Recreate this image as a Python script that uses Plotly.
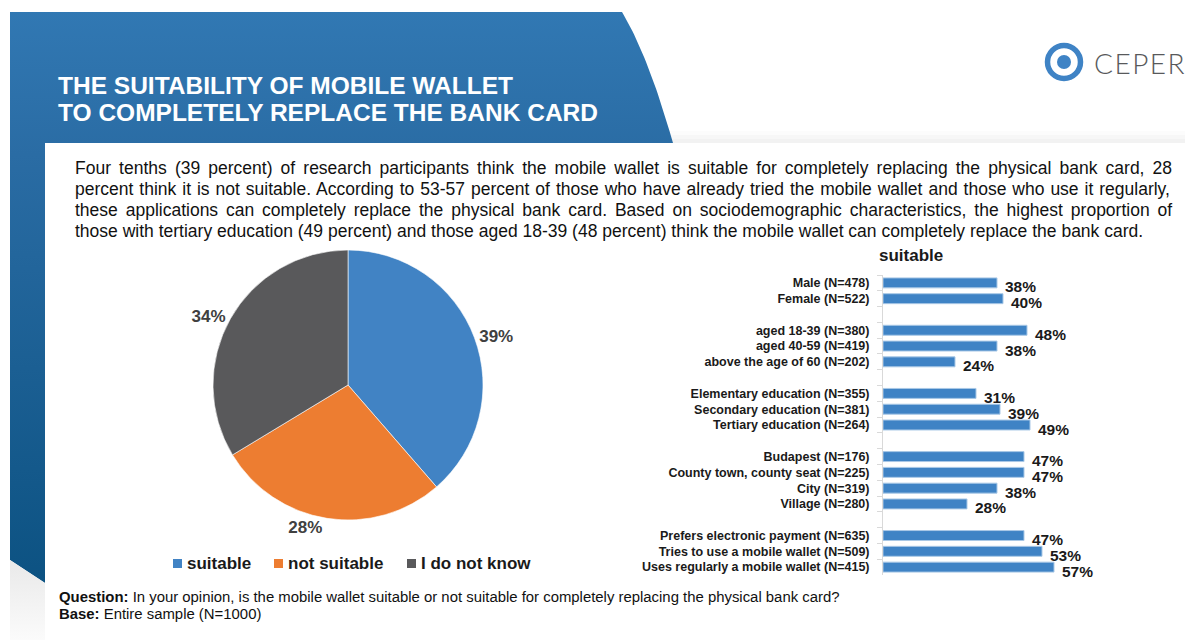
import plotly.graph_objects as go

W, H = 1185, 640
FONT = "Liberation Sans, Arial, sans-serif"

# ---------------- data ----------------
pie_labels = ["suitable", "not suitable", "I do not know"]
pie_values = [39, 28, 34]
pie_colors = ["#4183c4", "#ed7d31", "#59595b"]

bar_categories = [
    "Male (N=478)", "Female (N=522)", " ",
    "aged 18-39 (N=380)", "aged 40-59 (N=419)", "above the age of 60 (N=202)", "  ",
    "Elementary education (N=355)", "Secondary education (N=381)", "Tertiary education (N=264)", "   ",
    "Budapest (N=176)", "County town, county seat (N=225)", "City (N=319)", "Village (N=280)", "    ",
    "Prefers electronic payment (N=635)", "Tries to use a mobile wallet (N=509)",
    "Uses regularly a mobile wallet (N=415)",
]
bar_values = [38, 40, None, 48, 38, 24, None, 31, 39, 49, None, 47, 47, 38, 28, None, 47, 53, 57]
bar_title = "suitable"

title_lines = ["THE SUITABILITY OF MOBILE WALLET", "TO COMPLETELY REPLACE THE BANK CARD"]
paragraph_lines = [
    "Four tenths (39 percent) of research participants think the mobile wallet is suitable for completely replacing the physical bank card, 28",
    "percent think it is not suitable. According to 53-57 percent of those who have already tried the mobile wallet and those who use it regularly,",
    "these applications can completely replace the physical bank card. Based on sociodemographic characteristics, the highest proportion of",
    "those with tertiary education (49 percent) and those aged 18-39 (48 percent) think the mobile wallet can completely replace the bank card.",
]
question_text = "<b>Question:</b> In your opinion, is the mobile wallet suitable or not suitable for completely replacing the physical bank card?"
base_text = "<b>Base:</b> Entire sample (N=1000)"

# ---------------- text metrics (Arial / Liberation Sans regular, 1/1000 em) ----------------
_W = {" ": 278, "(": 333, ")": 333, ",": 278, "-": 333, ".": 278, "=": 584, "?": 556, ":": 278}
_W.update({d: 556 for d in "0123456789"})
_W.update(dict(zip("abcdefghijklmnopqrstuvwxyz",
                   [556, 556, 500, 556, 556, 278, 556, 556, 222, 222, 500, 222, 833,
                    556, 556, 556, 556, 333, 500, 278, 556, 500, 722, 500, 500, 500])))
_W.update(dict(zip("ABCDEFGHIJKLMNOPQRSTUVWXYZ",
                   [667, 667, 722, 722, 667, 611, 778, 722, 278, 500, 667, 556, 833,
                    722, 778, 667, 778, 722, 667, 611, 722, 667, 944, 667, 667, 611])))


def text_width(s, size):
    return sum(_W.get(c, 556) for c in s) / 1000.0 * size


def justified(line, size, width):
    gaps = line.count(" ")
    extra = max(0.0, (width - text_width(line, size)) / max(gaps, 1))
    return f"<span style='word-spacing:{extra:.2f}px'>{line}</span>"


fig = go.Figure()

# ---------------- header banner (pixel-space overlay axes) ----------------
def bezier(p0, p1, p2, n=30):
    pts = []
    for i in range(n + 1):
        t = i / n
        x = (1 - t) ** 2 * p0[0] + 2 * (1 - t) * t * p1[0] + t ** 2 * p2[0]
        y = (1 - t) ** 2 * p0[1] + 2 * (1 - t) * t * p1[1] + t ** 2 * p2[1]
        pts.append((x, y))
    return pts

outline = [(10, 12)] + bezier((622, 12), (648, 55), (673, 143)) + [(45, 143), (45, 583), (10, 560), (10, 12)]
fig.add_trace(go.Scatter(
    x=[p[0] for p in outline], y=[p[1] for p in outline],
    xaxis="x2", yaxis="y2", mode="lines", fill="toself",
    line=dict(width=0, color="#2a6ca4"),
    fillgradient=dict(type="vertical", start=12, stop=583,
                      colorscale=[[0, "#3178b3"], [0.25, "#2a6ca4"], [1, "#0c5282"]]),
    hoverinfo="skip", showlegend=False,
))
# soft fade under the strip's bevel
fade = [(10, 560), (45, 583), (45, 640), (10, 640), (10, 560)]
fig.add_trace(go.Scatter(
    x=[p[0] for p in fade], y=[p[1] for p in fade],
    xaxis="x2", yaxis="y2", mode="lines", fill="toself", line=dict(width=0, color="#f0f0f0"),
    fillgradient=dict(type="vertical", start=560, stop=640,
                      colorscale=[[0, "#e9e9e9"], [1, "#fbfbfb"]]),
    hoverinfo="skip", showlegend=False,
))

# ---------------- pie ----------------
fig.add_trace(go.Pie(
    labels=pie_labels, values=pie_values, sort=False, direction="clockwise", rotation=0,
    marker=dict(colors=pie_colors, line=dict(color="#ffffff", width=0.6)),
    texttemplate="%{value}%", textposition="outside",
    textfont=dict(family=FONT, size=17, color="#404040", weight="bold"),
    domain=dict(x=[213 / W, 483 / W], y=[1 - 520 / H, 1 - 250 / H]),
    hoverinfo="label+value", showlegend=False,
))

# ---------------- bars ----------------
fig.add_trace(go.Bar(
    x=bar_values, y=bar_categories, orientation="h", width=0.63,
    marker=dict(color="#3f83c5", line=dict(color="#a9c8e6", width=1)),
    hoverinfo="x+y", showlegend=False,
))

annotations = []
for cat, v in zip(bar_categories, bar_values):
    if v is None:
        continue
    annotations.append(dict(
        x=v, y=cat, xref="x", yref="y", text=f"{v}%", showarrow=False,
        xanchor="left", yanchor="middle", xshift=6, yshift=-4,
        font=dict(family=FONT, size=15.5, color="#1a1a1a", weight="bold"),
    ))

annotations.append(dict(
    x=911, y=255, xref="x2", yref="y2", text=bar_title, showarrow=False,
    xanchor="center", yanchor="middle",
    font=dict(family=FONT, size=17, color="#1a1a1a", weight="bold"),
))

# ---------------- headline ----------------
for i, line in enumerate(title_lines):
    annotations.append(dict(
        x=56, y=85 + 27.5 * i, xref="x2", yref="y2", text=line, showarrow=False,
        xanchor="left", yanchor="middle",
        font=dict(family=FONT, size=24.5, color="#ffffff", weight="bold"),
    ))

# ---------------- paragraph (justified lines) ----------------
PSIZE = 17.5
for i, line in enumerate(paragraph_lines):
    txt = justified(line, PSIZE, 1097) if i < len(paragraph_lines) - 1 else line
    annotations.append(dict(
        x=73, y=167.5 + 21.3 * i, xref="x2", yref="y2", text=txt, showarrow=False,
        xanchor="left", yanchor="middle",
        font=dict(family=FONT, size=PSIZE, color="#111111"),
    ))

# ---------------- legend ----------------
legend_items = list(zip(pie_labels, pie_colors))
legend_x = [173, 274, 407]
shapes = []
for (lab, col), lx in zip(legend_items, legend_x):
    shapes.append(dict(type="rect", xref="x2", yref="y2", x0=lx, x1=lx + 9, y0=559, y1=568,
                       fillcolor=col, line=dict(width=0)))
    annotations.append(dict(
        x=lx + 12, y=563, xref="x2", yref="y2", text=lab, showarrow=False,
        xanchor="left", yanchor="middle",
        font=dict(family=FONT, size=17, color="#1a1a1a", weight="bold"),
    ))

# ---------------- footnotes ----------------
for y, txt in [(597, question_text), (614, base_text)]:
    annotations.append(dict(
        x=57, y=y, xref="x2", yref="y2", text=txt, showarrow=False,
        xanchor="left", yanchor="middle",
        font=dict(family=FONT, size=14.9, color="#111111"),
    ))

# ---------------- logo ----------------
shapes.append(dict(type="circle", xref="x2", yref="y2", x0=1047.5, x1=1080.5, y0=45.5, y1=78.5,
                   line=dict(color="#3f83c5", width=5.5), fillcolor="rgba(0,0,0,0)"))
shapes.append(dict(type="circle", xref="x2", yref="y2", x0=1057, x1=1071, y0=55, y1=69,
                   line=dict(width=0), fillcolor="#3f83c5"))
annotations.append(dict(
    x=1092, y=63, xref="x2", yref="y2",
    text="<span style='letter-spacing:1.5px'>CEPER</span>", showarrow=False,
    xanchor="left", yanchor="middle",
    font=dict(family="Lato, Open Sans, sans-serif", size=28, color="#58595b", weight=300),
))

# shadow under the banner
for y0, col in [(131, "#fcfcfc"), (135, "#f7f7f7"), (139, "#f2f2f2")]:
    shapes.append(dict(type="rect", xref="x2", yref="y2", x0=660, x1=W, y0=y0, y1=y0 + 4,
                       fillcolor=col, line=dict(width=0), layer="below"))

fig.update_layout(
    width=W, height=H, autosize=False,
    margin=dict(l=0, r=0, t=0, b=0),
    paper_bgcolor="#ffffff", plot_bgcolor="rgba(0,0,0,0)",
    showlegend=False, bargap=0.37,
    xaxis=dict(domain=[883 / W, 1183 / W], range=[0, 100], visible=False, fixedrange=True),
    yaxis=dict(
        domain=[1 - 575 / H, 1 - 275 / H], type="category",
        categoryorder="array", categoryarray=bar_categories,
        range=[len(bar_categories) - 0.5, -0.5], autorange=False,
        showline=True, linecolor="#d9d9d9", linewidth=1,
        ticks="outside", tickson="boundaries", ticklen=5, tickcolor="#d9d9d9",
        tickfont=dict(family=FONT, size=12.5, color="#1a1a1a", weight="bold"),
        ticklabelstandoff=10, showgrid=False, zeroline=False, fixedrange=True,
    ),
    xaxis2=dict(domain=[0, 1], range=[0, W], visible=False, anchor="y2", fixedrange=True),
    yaxis2=dict(domain=[0, 1], range=[H, 0], visible=False, anchor="x2", fixedrange=True),
    shapes=shapes, annotations=annotations,
)

fig.write_html("out.html", config={"displayModeBar": False})
